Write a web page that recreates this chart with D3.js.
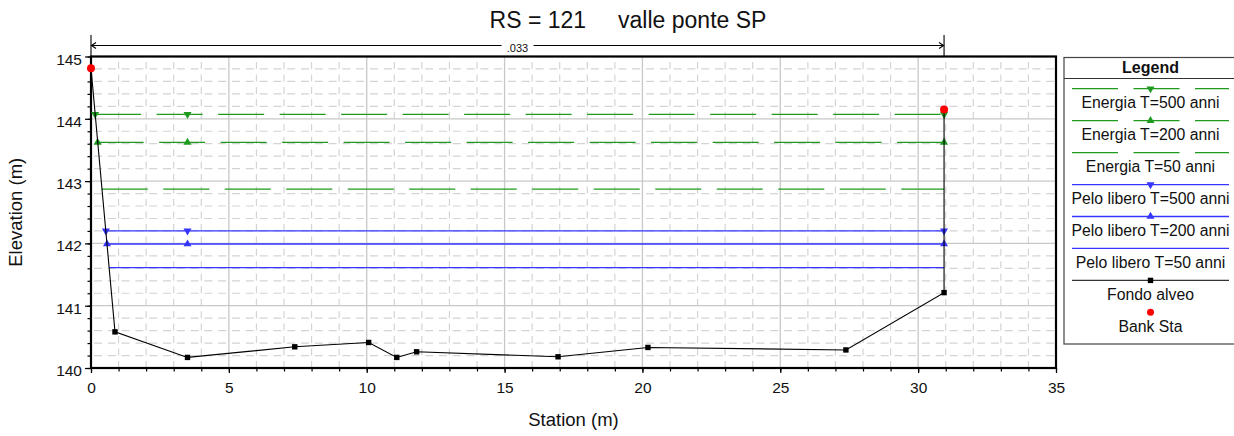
<!DOCTYPE html>
<html><head><meta charset="utf-8">
<script src="https://cdn.jsdelivr.net/npm/d3@7"></script>
<style>
body{margin:0;background:#fff}
svg{display:block;font-family:"Liberation Sans",Arial,sans-serif}
</style>
</head><body><svg id="c" width="1234" height="436"></svg>
<script>
// ---------- data ----------
const titleText = "RS = 121     valle ponte SP";
const xLabel = "Station (m)";
const yLabel = "Elevation (m)";
const xTicks = [0, 5, 10, 15, 20, 25, 30, 35];
const yTicks = [140, 141, 142, 143, 144, 145];

const groundStation = [0, 0.87, 3.5, 7.39, 10.07, 11.09, 11.81, 16.94, 20.2, 27.38, 30.94, 30.94];
const groundElev    = [144.81, 140.58, 140.17, 140.34, 140.41, 140.17, 140.26, 140.18, 140.33, 140.29, 141.21, 144.15];

const bankStation = [0, 30.94];
const bankElev    = [144.81, 144.15];

const seriesNames  = ["Energia T=500 anni", "Energia T=200 anni", "Energia T=50 anni",
                      "Pelo libero T=500 anni", "Pelo libero T=200 anni", "Pelo libero T=50 anni"];
const seriesElev   = [144.07, 143.62, 142.87, 142.20, 141.99, 141.61];
const seriesStart  = [0.15, 0.24, 0.39, 0.54, 0.58, 0.66];
const seriesEnd    = [30.94, 30.94, 30.94, 30.94, 30.94, 30.94];
const seriesMid    = [3.5, 3.5, 3.5, 3.5, 3.5, 3.5];
const seriesMarker = ["down", "up", "none", "down", "up", "none"];
const seriesKind   = ["energy", "energy", "energy", "ws", "ws", "ws"];

const nLabel = ".033";
const nFrom = 0, nTo = 30.94;

// ---------- layout ----------
const svg = d3.select("#c");
svg.append("rect").attr("width", 1234).attr("height", 436).attr("fill", "#fff");
const L = 91, R = 1056, T = 56.5, B = 368;
const x = d3.scaleLinear().domain([0, 35]).range([L, R]);
const y = d3.scaleLinear().domain([140, 145]).range([B, T]);

const green = "#1f9a1f", blue = "#3535ff";

// grid
const g = svg.append("g");
const minorX = d3.range(0, 36).filter(v => v % 5 !== 0);
const minorY = d3.range(140, 145.001, 0.2).filter(v => Math.abs(v - Math.round(v)) > 0.01);
g.selectAll(".mx").data(minorX).join("line")
  .attr("x1", d => x(d)).attr("x2", d => x(d)).attr("y1", B).attr("y2", T)
  .attr("stroke", "#d4d4d4").attr("stroke-width", 1.2).attr("stroke-dasharray", "7,5.46");
g.selectAll(".my").data(minorY).join("line")
  .attr("x1", L).attr("x2", R).attr("y1", d => y(d)).attr("y2", d => y(d))
  .attr("stroke", "#d4d4d4").attr("stroke-width", 1.2).attr("stroke-dasharray", "8,5.8").attr("stroke-dashoffset", -3);
g.selectAll(".Mx").data(xTicks).join("line")
  .attr("x1", d => x(d)).attr("x2", d => x(d)).attr("y1", B).attr("y2", T)
  .attr("stroke", "#c8c8c8").attr("stroke-width", 1.3);
g.selectAll(".My").data(yTicks).join("line")
  .attr("x1", L).attr("x2", R).attr("y1", d => y(d)).attr("y2", d => y(d))
  .attr("stroke", "#c8c8c8").attr("stroke-width", 1.3);

// axes with ticks
const xAxisMinor = d3.axisBottom(x).tickValues(d3.range(0, 36)).tickSize(3.5).tickFormat("");
const xAxisMajor = d3.axisBottom(x).tickValues(xTicks).tickSize(5).tickFormat(d3.format("d")).tickPadding(9);
const yAxisMinor = d3.axisLeft(y).tickValues(d3.range(140, 145.001, 0.2)).tickSize(3.5).tickFormat("");
const yAxisMajor = d3.axisLeft(y).tickValues(yTicks).tickSize(6).tickFormat(d3.format("d")).tickPadding(3);

function styleAxis(sel) {
  sel.select(".domain").remove();
  sel.selectAll(".tick line").attr("stroke", "#000").attr("stroke-width", 1.2);
  sel.selectAll("text").attr("fill", "#111").attr("font-size", 15.5).attr("font-family", "Liberation Sans, Arial, sans-serif");
}
svg.append("g").attr("transform", `translate(0,${B})`).call(xAxisMinor).call(styleAxis);
svg.append("g").attr("transform", `translate(0,${B})`).call(xAxisMajor).call(styleAxis);
svg.append("g").attr("transform", `translate(${L},0)`).call(yAxisMinor).call(styleAxis);
const ya = svg.append("g").attr("transform", `translate(${L},0)`).call(yAxisMajor).call(styleAxis);
ya.selectAll("text").attr("dy", null).attr("dominant-baseline", null).attr("y", 7.5);

// plot border
svg.append("rect").attr("x", L).attr("y", T).attr("width", R - L).attr("height", B - T)
  .attr("fill", "none").attr("stroke", "#000").attr("stroke-width", 2.2);

// axis titles
svg.append("text").attr("x", (L + R) / 2).attr("y", 426).attr("text-anchor", "middle")
  .attr("font-size", 18.5).attr("fill", "#111").text(xLabel);
svg.append("text").attr("transform", `translate(22,${(T + B) / 2}) rotate(-90)`).attr("text-anchor", "middle")
  .attr("font-size", 18.5).attr("fill", "#111").text(yLabel);

// title
svg.append("text").attr("x", 628).attr("y", 27.5).attr("text-anchor", "middle")
  .attr("font-size", 23).attr("fill", "#111").style("white-space", "pre").text(titleText);

// dimension line (Manning n)
const dimY = 45.5;
const dim = svg.append("g").attr("stroke", "#000").attr("stroke-width", 1.1).attr("fill", "none");
dim.append("line").attr("x1", x(nFrom)).attr("x2", x(nFrom)).attr("y1", 35).attr("y2", T);
dim.append("line").attr("x1", x(nTo)).attr("x2", x(nTo)).attr("y1", 35).attr("y2", T);
dim.append("line").attr("x1", x(nFrom)).attr("x2", x(nTo)).attr("y1", dimY).attr("y2", dimY);
dim.append("path").attr("d", `M${x(nFrom) + 5},${dimY - 3}L${x(nFrom) + 0.5},${dimY}L${x(nFrom) + 5},${dimY + 3}`);
dim.append("path").attr("d", `M${x(nTo) - 5},${dimY - 3}L${x(nTo) - 0.5},${dimY}L${x(nTo) - 5},${dimY + 3}`);
const midN = (x(nFrom) + x(nTo)) / 2;
svg.append("rect").attr("x", midN - 16).attr("y", 39).attr("width", 32).attr("height", 13).attr("fill", "#fff");
svg.append("text").attr("x", midN).attr("y", 51.5).attr("text-anchor", "middle").attr("font-size", 11)
  .attr("fill", "#111").text(nLabel);

// markers
const triUp = d3.symbol().type(d3.symbolTriangle).size(28);
function marker(sel, type, cx, cy, color) {
  if (type === "none") return;
  const p = sel.append("path").attr("d", triUp()).attr("fill", color)
    .attr("transform", `translate(${cx},${cy})` + (type === "down" ? " rotate(180)" : ""));
}

// water surface / energy lines
const plot = svg.append("g");
seriesNames.forEach((name, i) => {
  const col = seriesKind[i] === "energy" ? green : blue;
  const yy = y(seriesElev[i]);
  plot.append("line").attr("x1", x(seriesStart[i])).attr("x2", x(seriesEnd[i]))
    .attr("y1", yy).attr("y2", yy).attr("stroke", col).attr("stroke-width", 1.3)
    .attr("stroke-dasharray", seriesKind[i] === "energy" ? "46,15.5" : null);
  [seriesStart[i], seriesMid[i], seriesEnd[i]].forEach(s => marker(plot, seriesMarker[i], x(s), yy, col));
});

// ground
const groundPts = groundStation.map((s, i) => [s, groundElev[i]]);
plot.append("path").attr("d", d3.line().x(d => x(d[0])).y(d => y(d[1]))(groundPts))
  .attr("fill", "none").attr("stroke", "#000").attr("stroke-width", 1.1);
plot.selectAll(".gp").data(groundPts).join("rect")
  .attr("x", d => x(d[0]) - 2.7).attr("y", d => y(d[1]) - 2.7).attr("width", 5.4).attr("height", 5.4).attr("fill", "#000");

// bank stations
plot.selectAll(".bk").data(bankStation).join("circle")
  .attr("cx", d => x(d)).attr("cy", (d, i) => y(bankElev[i])).attr("r", 4).attr("fill", "#ff0000");

// ---------- legend ----------
const LX = 1064, LT = 57.5, LB = 344, LW = 173;
const lg = svg.append("g");
lg.append("rect").attr("x", LX).attr("y", LT).attr("width", LW).attr("height", LB - LT)
  .attr("fill", "#fff").attr("stroke", "#444").attr("stroke-width", 1.2);
lg.append("line").attr("x1", LX).attr("x2", LX + LW).attr("y1", 78.5).attr("y2", 78.5).attr("stroke", "#333").attr("stroke-width", 1.2);
const lcx = LX + LW / 2;
lg.append("text").attr("x", lcx).attr("y", 72.5).attr("text-anchor", "middle").attr("font-size", 16)
  .attr("font-weight", "bold").attr("fill", "#111").text("Legend");

const step = 31.95, firstLine = 88.7;
const lx1 = 1072, lx2 = 1229;
seriesNames.forEach((name, i) => {
  const ly = firstLine + i * step;
  const col = seriesKind[i] === "energy" ? green : blue;
  lg.append("line").attr("x1", lx1).attr("x2", lx2).attr("y1", ly).attr("y2", ly)
    .attr("stroke", col).attr("stroke-width", 1.3)
    .attr("stroke-dasharray", seriesKind[i] === "energy" ? "46,15.5" : null);
  marker(lg, seriesMarker[i], lcx, ly, col);
  lg.append("text").attr("x", lcx).attr("y", ly + 19.5).attr("text-anchor", "middle").attr("font-size", 15.8)
    .attr("fill", "#111").text(name);
});
{
  const ly = firstLine + 6 * step;
  lg.append("line").attr("x1", lx1).attr("x2", lx2).attr("y1", ly).attr("y2", ly).attr("stroke", "#333").attr("stroke-width", 1.2);
  lg.append("rect").attr("x", lcx - 2.7).attr("y", ly - 2.7).attr("width", 5.4).attr("height", 5.4).attr("fill", "#000");
  lg.append("text").attr("x", lcx).attr("y", ly + 19.5).attr("text-anchor", "middle").attr("font-size", 15.8)
    .attr("fill", "#111").text("Fondo alveo");
  const ly2 = firstLine + 7 * step;
  lg.append("circle").attr("cx", lcx).attr("cy", ly2).attr("r", 3.5).attr("fill", "#ff0000");
  lg.append("text").attr("x", lcx).attr("y", ly2 + 20).attr("text-anchor", "middle").attr("font-size", 15.8)
    .attr("fill", "#111").text("Bank Sta");
}
</script></body></html>
